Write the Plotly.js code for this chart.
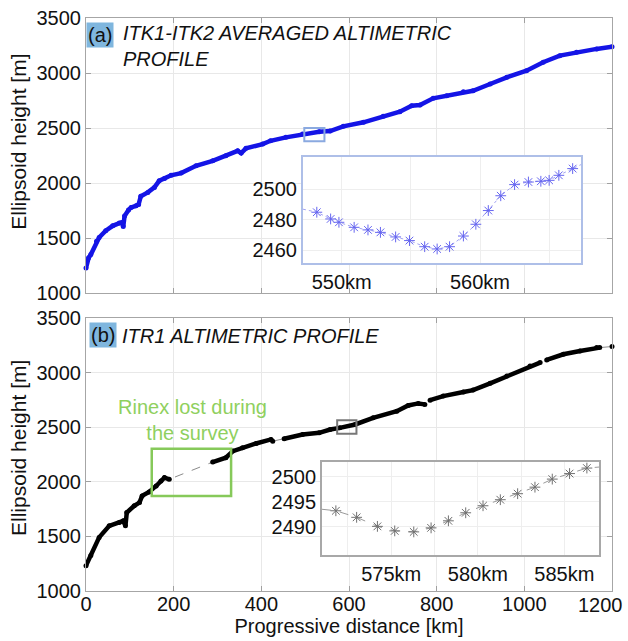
<!DOCTYPE html>
<html>
<head>
<meta charset="utf-8">
<script src="https://cdn.plot.ly/plotly-3.0.1.min.js"></script>
<style>html,body{margin:0;padding:0;background:#fff;}#chart{width:628px;height:641px;}</style>
</head>
<body>
<div id="chart"></div>
<script>
// ---- Data ----
const xTicks = [0, 200, 400, 600, 800, 1000, 1200];
const xTickLabels = ['0', '200', '400', '600', '800', '1000', '1200'];
const yTicks = [1000, 1500, 2000, 2500, 3000, 3500];

// (a) ITK1-ITK2 averaged profile: progressive distance [km], ellipsoid height [m]
const itkKm = [0, 6, 11, 24, 30, 45, 61, 76, 82, 85, 88, 97, 103, 114, 120, 125, 141, 156, 167, 179, 194, 217, 251, 289, 319, 346, 354, 365, 403, 421, 456, 494, 532, 557, 587, 633, 678, 716, 743, 762, 792, 823, 861, 883, 922, 960, 1005, 1043, 1081, 1119, 1165, 1200];
const itkH  = [1228, 1320, 1350, 1470, 1505, 1566, 1611, 1636, 1642, 1605, 1700, 1755, 1778, 1793, 1805, 1880, 1915, 1960, 2020, 2042, 2070, 2090, 2157, 2202, 2248, 2293, 2272, 2315, 2354, 2384, 2415, 2445, 2466, 2472, 2515, 2552, 2606, 2648, 2703, 2709, 2770, 2794, 2830, 2839, 2900, 2961, 3021, 3098, 3158, 3189, 3219, 3238];

// (b) ITR1 profile
const itrKm = [0, 11, 30, 53, 76, 85, 90, 93, 110, 122, 128, 144, 160, 171, 179, 190, 289, 319, 335, 357, 388, 422, 426, 452, 494, 532, 557, 579, 614, 655, 709, 735, 758, 773, 785, 815, 861, 883, 922, 960, 1013, 1036, 1051, 1089, 1127, 1165, 1172, 1200];
const itrH  = [1232, 1324, 1491, 1597, 1628, 1643, 1597, 1719, 1780, 1810, 1871, 1907, 1962, 2008, 2039, 2023, 2181, 2221, 2281, 2312, 2351, 2388, 2372, 2394, 2433, 2449, 2479, 2494, 2525, 2586, 2647, 2699, 2718, 2709, 2748, 2785, 2822, 2840, 2902, 2969, 3061, 3092, 3116, 3168, 3198, 3229, 3229, 3239];
// km after which the ITR1 record is missing until the next point
const itrGapStarts = [190, 426, 773, 1036, 1172];

// Inset (a): zoom 547-567 km (first/last entries are where the line meets the frame)
const insetAKm = [547.2, 548.2, 549.2, 549.8, 550.9, 551.9, 552.8, 553.9, 554.9, 556.0, 556.9, 557.8, 558.8, 559.7, 560.6, 561.5, 562.5, 563.5, 564.4, 565.0, 565.7, 566.7, 567.3];
const insetAH  = [2486.8, 2484.8, 2480.4, 2478.2, 2474.9, 2473.2, 2471.6, 2468.6, 2466.2, 2462.2, 2460.7, 2462.2, 2469.2, 2476.9, 2485.9, 2495.6, 2502.9, 2504.6, 2505.1, 2505.7, 2509.0, 2513.4, 2516.0];
const insetAXTicks = [550, 555, 560, 565];
const insetAXLabels = ['550km', '', '560km', ''];
const insetAYTicks = [2460, 2480, 2500];

// Inset (b): zoom 571-587 km
const insetBKm = [571.0, 571.8, 573.0, 574.2, 575.2, 576.3, 577.3, 578.3, 579.3, 580.3, 581.3, 582.3, 583.3, 584.3, 585.3, 586.3, 587.0];
const insetBH  = [2493.5, 2493.2, 2491.9, 2490.1, 2489.2, 2489.0, 2489.8, 2491.2, 2492.8, 2494.2, 2495.4, 2496.6, 2497.9, 2499.5, 2500.6, 2501.7, 2501.9];
const insetBXTicks = [572.5, 575, 577.5, 580, 582.5, 585];
const insetBXLabels = ['', '575km', '', '580km', '', '585km'];
const insetBYTicks = [2490, 2495, 2500];

// ---- Build ----
const FONT = 'Arial, "Liberation Sans", sans-serif';

function withGaps(xs, ys, gapStarts) {
  const gx = [], gy = [];
  for (let i = 0; i < xs.length; i++) {
    gx.push(xs[i]); gy.push(ys[i]);
    if (gapStarts.includes(xs[i]) && i < xs.length - 1) { gx.push(null); gy.push(null); }
  }
  return {x: gx, y: gy};
}
const itrSeg = withGaps(itrKm, itrH, itrGapStarts);

const traces = [
  {x: itkKm, y: itkH, xaxis: 'x', yaxis: 'y', mode: 'lines+markers', cliponaxis: false,
   line: {color: '#1414e6', width: 4.5}, marker: {color: '#1414e6', size: 5}, hoverinfo: 'skip'},
  {x: itrKm, y: itrH, xaxis: 'x2', yaxis: 'y2', mode: 'lines',
   line: {color: '#8a8a8a', width: 1, dash: 'dash'}, hoverinfo: 'skip'},
  {x: itrSeg.x, y: itrSeg.y, xaxis: 'x2', yaxis: 'y2', mode: 'lines+markers', connectgaps: false, cliponaxis: false,
   line: {color: '#000000', width: 4.5}, marker: {color: '#000000', size: 5}, hoverinfo: 'skip'},
  {x: insetAKm, y: insetAH, xaxis: 'x3', yaxis: 'y3', mode: 'lines',
   line: {color: '#a4a4f2', width: 1, dash: 'dot'}, hoverinfo: 'skip'},
  {x: insetAKm.slice(1, -1), y: insetAH.slice(1, -1), xaxis: 'x3', yaxis: 'y3', mode: 'markers',
   marker: {symbol: 'asterisk-open', size: 9, color: '#6666f0', line: {width: 1, color: '#6666f0'}}, hoverinfo: 'skip'},
  {x: insetBKm, y: insetBH, xaxis: 'x4', yaxis: 'y4', mode: 'lines',
   line: {color: '#9a9a9a', width: 1, dash: 'dash'}, hoverinfo: 'skip'},
  {x: insetBKm.slice(1, -1), y: insetBH.slice(1, -1), xaxis: 'x4', yaxis: 'y4', mode: 'markers',
   marker: {symbol: 'asterisk-open', size: 9, color: '#707070', line: {width: 1, color: '#707070'}}, hoverinfo: 'skip'}
];

const tickFont = {family: FONT, size: 20, color: '#111'};
const lastIdx = xTickLabels.length - 1;
function mainX(extra) {
  return Object.assign({
    range: [0, 1200], tickvals: xTicks,
    // the last label is drawn as an annotation, shifted inside the window
    ticktext: xTickLabels.map((t, i) => i === lastIdx ? '' : t),
    ticks: 'inside', ticklen: 5, tickcolor: '#a0a0a0', showline: true, mirror: 'ticks',
    linecolor: '#a6a6a6', linewidth: 1, showgrid: true, gridcolor: '#e8e8e8', zeroline: false,
    tickfont: tickFont, automargin: false
  }, extra);
}
function mainY(extra) {
  return Object.assign({
    range: [1000, 3500], tickvals: yTicks, ticks: 'inside', ticklen: 5, tickcolor: '#a0a0a0',
    showline: true, mirror: 'ticks', linecolor: '#a6a6a6', linewidth: 1, showgrid: true,
    gridcolor: '#e8e8e8', zeroline: false, tickfont: tickFont, automargin: false
  }, extra);
}
function insetAxis(extra, color) {
  return Object.assign({
    showline: true, mirror: true, linecolor: color, linewidth: 2, ticks: '', showgrid: true,
    gridcolor: '#eeeeee', zeroline: false, tickfont: tickFont, automargin: false
  }, extra);
}

const layout = {
  width: 628, height: 641,
  margin: {l: 86, r: 16, t: 18, b: 50},
  paper_bgcolor: '#ffffff', plot_bgcolor: '#ffffff',
  showlegend: false,
  font: {family: FONT, size: 20, color: '#111'},
  xaxis: mainX({domain: [0, 1], anchor: 'y', showticklabels: false}),
  yaxis: mainY({domain: [0.520, 1], anchor: 'x'}),
  xaxis2: mainX({domain: [0, 1], anchor: 'y2', ticklabelstandoff: -5,
    title: {text: 'Progressive distance [km]', font: {family: FONT, size: 20, color: '#111'}, standoff: 2}}),
  yaxis2: mainY({domain: [0, 0.4764], anchor: 'x2'}),
  xaxis3: insetAxis({domain: [0.4125, 0.941], anchor: 'y3', range: [547.2, 567.3], tickvals: insetAXTicks, ticktext: insetAXLabels}, '#aebfe8'),
  yaxis3: insetAxis({domain: [0.5724, 0.7574], anchor: 'x3', range: [2451.5, 2521], tickvals: insetAYTicks}, '#aebfe8'),
  xaxis4: insetAxis({domain: [0.4487, 0.9753], anchor: 'y4', range: [571.0, 587.0], tickvals: insetBXTicks, ticktext: insetBXLabels}, '#a8a8a8'),
  yaxis4: insetAxis({domain: [0.0628, 0.2251], anchor: 'x4', range: [2484.4, 2502.9], tickvals: insetBYTicks}, '#a8a8a8'),
  shapes: [
    {type: 'rect', xref: 'x', yref: 'y', x0: 498, x1: 544, y0: 2380, y1: 2501, line: {color: '#8aa9e0', width: 2}},
    {type: 'rect', xref: 'x2', yref: 'y2', x0: 573, x1: 617, y0: 2439, y1: 2564, line: {color: '#777777', width: 2}},
    {type: 'rect', xref: 'x2', yref: 'y2', x0: 150, x1: 331, y0: 1871, y1: 2303, line: {color: '#86c95a', width: 2.5}}
  ],
  annotations: [
    {xref: 'x2', yref: 'paper', x: xTicks[lastIdx], y: 0, xanchor: 'center', yanchor: 'top', yshift: -1, xshift: -12,
     showarrow: false, text: xTickLabels[lastIdx], font: tickFont},
    {xref: 'paper', yref: 'paper', x: -0.1274, y: 0.784, xanchor: 'center', yanchor: 'middle', showarrow: false,
     textangle: -90, text: 'Ellipsoid height [m]', font: {family: FONT, size: 21, color: '#111'}},
    {xref: 'paper', yref: 'paper', x: -0.1274, y: 0.2496, xanchor: 'center', yanchor: 'middle', showarrow: false,
     textangle: -90, text: 'Ellipsoid height [m]', font: {family: FONT, size: 21, color: '#111'}},
    {xref: 'paper', yref: 'paper', x: 0, y: 0.993, xanchor: 'left', yanchor: 'top', showarrow: false,
     text: '(a)', bgcolor: '#7fb6de', borderpad: 1, font: {family: FONT, size: 20, color: '#111'}},
    {xref: 'paper', yref: 'paper', x: 0.0665, y: 0.996, xanchor: 'left', yanchor: 'top', showarrow: false, align: 'left',
     text: '<i>ITK1-ITK2 AVERAGED ALTIMETRIC<br>PROFILE</i>', font: {family: FONT, size: 20, color: '#111'}},
    {xref: 'paper', yref: 'paper', x: 0.0057, y: 0.4695, xanchor: 'left', yanchor: 'top', showarrow: false,
     text: '(b)', bgcolor: '#7fb6de', borderpad: 1, font: {family: FONT, size: 20, color: '#111'}},
    {xref: 'paper', yref: 'paper', x: 0.0646, y: 0.445, xanchor: 'left', yanchor: 'middle', showarrow: false,
     text: '<i>ITR1 ALTIMETRIC PROFILE</i>', font: {family: FONT, size: 20, color: '#111'}},
    {xref: 'x2', yref: 'y2', x: 243, y: 2570, xanchor: 'center', yanchor: 'middle', showarrow: false, align: 'center',
     text: 'Rinex lost during<br>the survey', font: {family: FONT, size: 20, color: '#8fd05e'}}
  ]
};

Plotly.newPlot('chart', traces, layout, {staticPlot: true, displayModeBar: false});
</script>
</body>
</html>
